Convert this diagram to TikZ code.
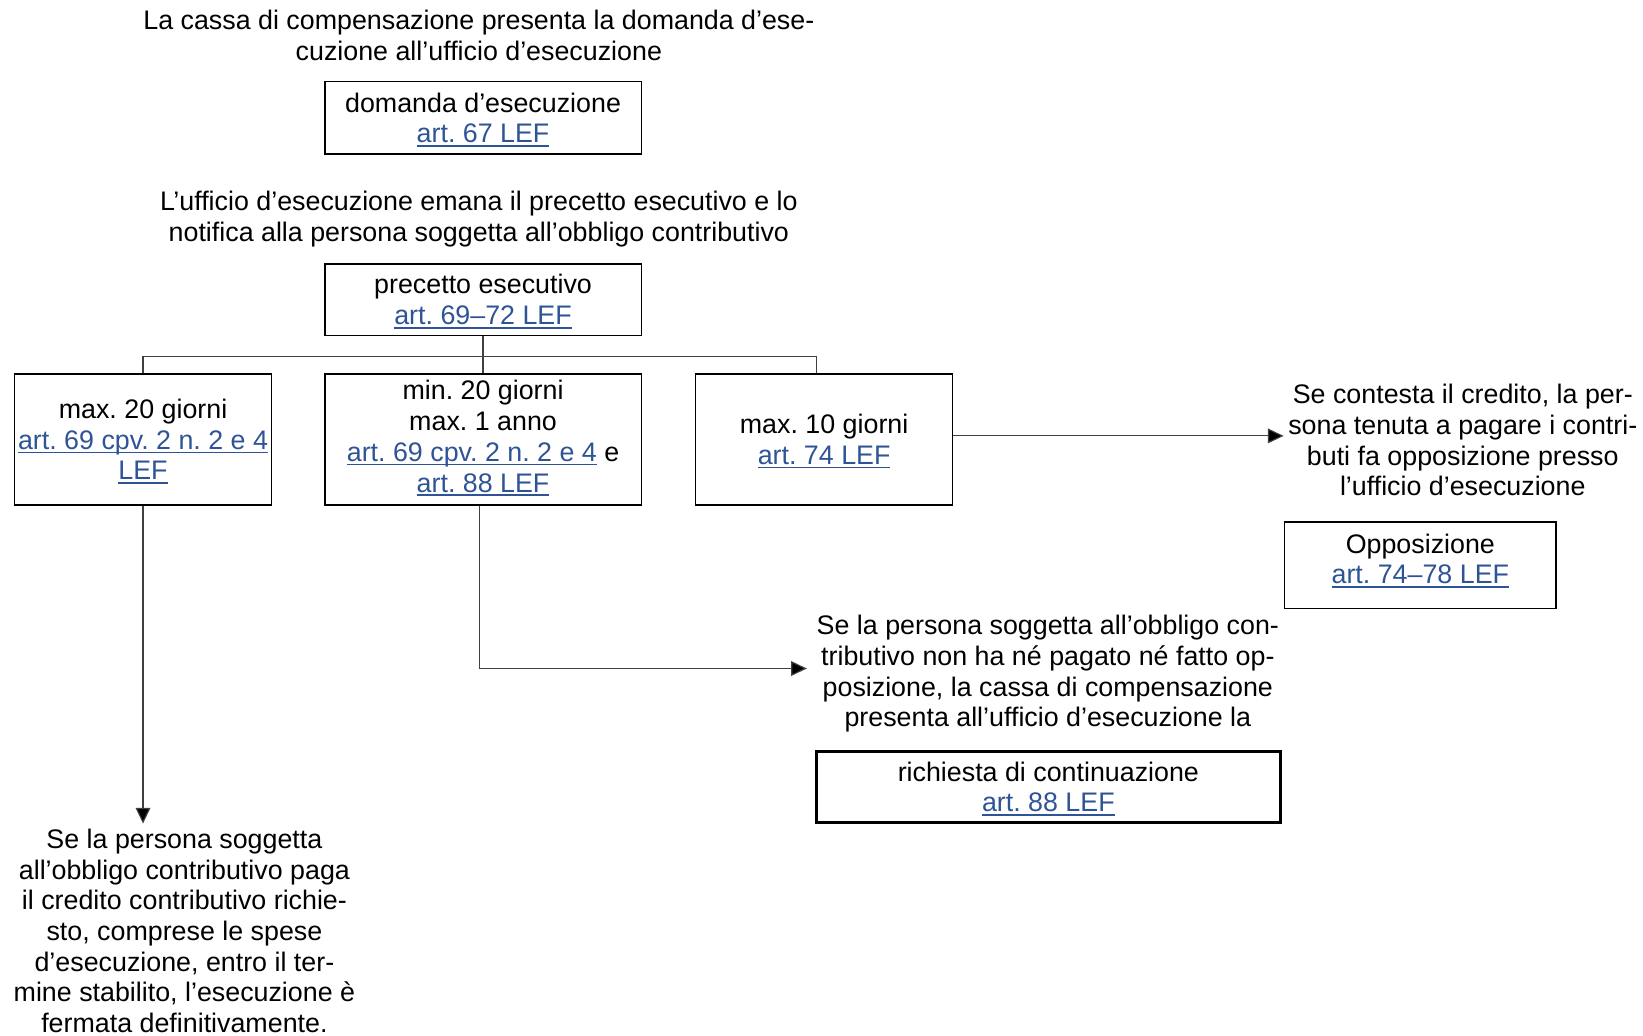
\documentclass[tikz,border=0pt]{standalone}
\usepackage{fontspec}
\setmainfont{Liberation Sans}
\usetikzlibrary{arrows.meta}
\definecolor{linkblue}{HTML}{2F5496}
\definecolor{connc}{HTML}{404040}
\newcommand\lnk[1]{{\color{linkblue}\setbox0\hbox{#1}\rlap{\smash{\rule[-1.9pt]{\wd0}{0.75pt}}}\box0}}
\tikzset{
  txt/.style={align=center, inner sep=0pt, font=\frenchspacing\fontsize{12.8pt}{14.65pt}\selectfont},
  boxn/.style={draw=black, line width=0.65pt, inner sep=0pt},
  conn/.style={draw=connc, line width=0.55pt},
  arr/.style={conn, -{Triangle[length=7.5pt,width=7pt,fill=black]}}
}
\begin{document}
\begin{tikzpicture}[x=0.5pt,y=-0.5pt]
\useasboundingbox[fill=white] (0,0) rectangle (1568,988);
\node[txt] (t1) at (457,33.5) {La cassa di compensazione presenta la domanda d’ese-\\cuzione all’ufficio d’esecuzione};
\node[boxn,txt,minimum width=151pt,minimum height=34.5pt] (dom) at (461,112.5) {domanda d’esecuzione\\\lnk{art. 67 LEF}};
\node[txt] (t2) at (457,209) {L’ufficio d’esecuzione emana il precetto esecutivo e lo\\notifica alla persona soggetta all’obbligo contributivo};
\node[boxn,txt,minimum width=151pt,minimum height=34pt] (prec) at (461,286) {precetto esecutivo\\\lnk{art. 69–72 LEF}};
\node[boxn,txt,minimum width=122.5pt,minimum height=62.5pt] (m20) at (136.5,419.5) {max. 20 giorni\\\lnk{art. 69 cpv. 2 n. 2 e 4}\\\lnk{LEF}};
\node[boxn,minimum width=151pt,minimum height=62.5pt] (mn20) at (461,419.5) {};
\node[txt] (mn20t) at (461,416.5) {min. 20 giorni\\max. 1 anno\\\lnk{art. 69 cpv. 2 n. 2 e 4} e\\\lnk{art. 88 LEF}};
\node[boxn,txt,minimum width=122.5pt,minimum height=62.5pt] (m10) at (786.5,419.5) {max. 10 giorni\\\lnk{art. 74 LEF}};
\node[txt] (opt) at (1396,420) {Se contesta il credito, la per-\\sona tenuta a pagare i contri-\\buti fa opposizione presso\\l’ufficio d’esecuzione};
\node[boxn,minimum width=129.5pt,minimum height=41.5pt] (opp) at (1355.5,539.5) {};
\node[txt] (oppt) at (1355.5,533.5) {Opposizione\\\lnk{art. 74–78 LEF}};
\node[txt] (cont) at (1000,643) {Se la persona soggetta all’obbligo con-\\tributivo non ha né pagato né fatto op-\\posizione, la cassa di compensazione\\presenta all’ufficio d’esecuzione la};
\node[boxn,txt,line width=1.3pt,minimum width=221.5pt,minimum height=34pt] (ric) at (1000.5,751) {richiesta di continuazione\\\lnk{art. 88 LEF}};
\node[txt] (pay) at (176,888.5) {Se la persona soggetta\\all’obbligo contributivo paga\\il credito contributivo richie-\\sto, comprese le spese\\d’esecuzione, entro il ter-\\mine stabilito, l’esecuzione è\\fermata definitivamente.};
% tree
\coordinate (j) at (461,340);
\coordinate (jr) at (779,340);
\draw[conn] (prec.south) -- (j);
\draw[conn] (m20.north) |- (jr) -- (jr |- m10.north);
\draw[conn] (j) -- (mn20.north);
% arrows
\coordinate (a1) at (1225,416);
\draw[arr] (m10.east |- a1) -- (a1);
\coordinate (a2) at (770,638);
\draw[arr] ([xshift=-1.5pt]mn20.south) |- (a2);
\coordinate (a3) at (136.5,786);
\draw[arr] (m20.south) -- (a3);
\end{tikzpicture}
\end{document}
